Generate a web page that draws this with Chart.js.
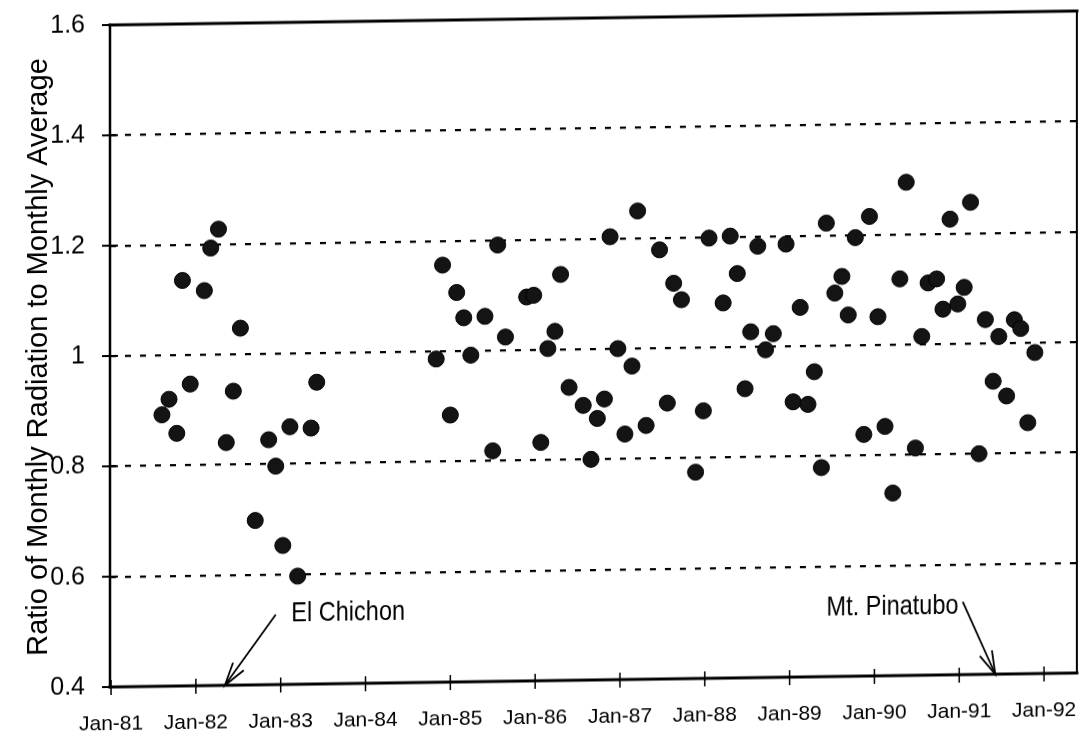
<!DOCTYPE html>
<html>
<head>
<meta charset="utf-8">
<script src="https://cdn.jsdelivr.net/npm/chart.js@4/dist/chart.umd.min.js"></script>
<style>
  html, body { margin: 0; padding: 0; background: #fff; }
  #wrap { width: 1086px; height: 744px; overflow: hidden; }
  #c { display: block; transform: skewY(-0.83deg); transform-origin: 110px 356px; }
</style>
</head>
<body>
<div id="wrap"><canvas id="c" width="1086" height="744"></canvas></div>
<script>
// Months since Jan-81 (decimal) for each monthly observation
const months = [
  7.2, 8.2, 9.3, 10.1, 11.2, 13.2, 14.1, 15.2, 16.3, 17.3, 18.3, 20.4, 22.3, 23.3, 24.3, 25.3, 26.4, 28.3, 29.1,
  46.0, 46.9, 48.0, 48.9, 49.9, 50.9, 52.9, 54.0, 54.7, 55.8,
  58.8, 59.8, 60.8, 61.8, 62.8, 63.6, 64.8, 66.8, 67.9, 68.8,
  69.8, 70.6, 71.7, 72.7, 73.7, 74.5, 75.7, 77.6, 78.7, 79.6,
  80.7, 82.7, 83.8, 84.6, 86.6, 87.6, 88.6, 89.7, 90.5, 91.5,
  92.6, 93.7, 95.5, 96.5, 97.5, 98.6, 99.5, 100.5, 101.2, 102.4,
  103.4, 104.3, 105.3, 106.5, 107.3, 108.5, 109.5, 110.6, 111.6, 112.5,
  113.8, 114.7, 115.6, 116.8, 117.7, 118.7, 119.8, 120.7, 121.6, 122.8,
  123.7, 124.8, 125.6, 126.7, 127.8, 128.7, 129.7, 130.7
];
// Ratio of monthly radiation to monthly average
const ratios = [
  0.892, 0.920, 0.858, 1.135, 0.947, 1.116, 1.193, 1.227, 0.840, 0.933, 1.047, 0.698, 0.844, 0.796, 0.652, 0.867, 0.596, 0.864, 0.947,
  0.986, 1.156, 0.884, 1.106, 1.060, 0.992, 1.062, 0.818, 1.191, 1.024,
  1.096, 1.099, 0.832, 1.002, 1.033, 1.136, 0.931, 0.898, 0.800, 0.874,
  0.909, 1.203, 1.000, 0.845, 0.968, 1.249, 0.860, 1.178, 0.900, 1.117,
  1.087, 0.774, 0.885, 1.198, 1.080, 1.201, 1.133, 0.924, 1.027, 1.182,
  0.994, 1.023, 1.185, 0.899, 1.070, 0.894, 0.953, 0.779, 1.222, 1.095,
  1.125, 1.055, 1.195, 0.838, 1.233, 1.051, 0.852, 0.731, 1.119, 1.294,
  0.812, 1.014, 1.111, 1.118, 1.063, 1.226, 1.072, 1.102, 1.256, 0.800,
  1.043, 0.931, 1.012, 0.904, 1.042, 1.026, 0.855, 0.982
];
const yearLabels = ['Jan-81','Jan-82','Jan-83','Jan-84','Jan-85','Jan-86','Jan-87','Jan-88','Jan-89','Jan-90','Jan-91','Jan-92'];
const yTickValues = [0.4, 0.6, 0.8, 1.0, 1.2, 1.4, 1.6];
const yTickLabels = ['0.4', '0.6', '0.8', '1', '1.2', '1.4', '1.6'];
const eventNames = ['El Chichon', 'Mt. Pinatubo'];
const eventMonths = [16.1, 125.1];

const points = months.map((m, i) => ({ x: m, y: ratios[i] }));

const SANS = '"Liberation Sans", Arial, sans-serif';

const framePlugin = {
  id: 'frame',
  afterDraw(chart) {
    const ctx = chart.ctx;
    const { left, right, top, bottom } = chart.chartArea;
    const xs = chart.scales.x, ys = chart.scales.y;
    ctx.save();
    ctx.strokeStyle = '#000';
    ctx.lineCap = 'square';
    // frame
    ctx.lineWidth = 3;
    ctx.beginPath(); ctx.moveTo(left, bottom); ctx.lineTo(right, bottom); ctx.stroke();
    ctx.beginPath(); ctx.moveTo(left, top); ctx.lineTo(right, top); ctx.stroke();
    ctx.lineWidth = 2.5;
    ctx.beginPath(); ctx.moveTo(left, top); ctx.lineTo(left, bottom); ctx.stroke();
    ctx.lineWidth = 2;
    ctx.beginPath(); ctx.moveTo(right, top); ctx.lineTo(right, bottom); ctx.stroke();
    // crossing tick marks
    ctx.lineWidth = 1.5;
    ctx.lineCap = 'butt';
    xs.ticks.forEach(t => {
      const px = xs.getPixelForValue(t.value);
      ctx.beginPath(); ctx.moveTo(px, bottom - 7); ctx.lineTo(px, bottom + 8); ctx.stroke();
    });
    ctx.lineWidth = 2;
    ys.ticks.forEach(t => {
      const py = ys.getPixelForValue(t.value);
      ctx.beginPath(); ctx.moveTo(left - 8, py); ctx.lineTo(left + 8, py); ctx.stroke();
    });
    // event annotations
    const drawArrow = (x0, y0, x1, y1) => {
      ctx.lineWidth = 1.8;
      ctx.beginPath(); ctx.moveTo(x0, y0); ctx.lineTo(x1, y1); ctx.stroke();
      const a = Math.atan2(y1 - y0, x1 - x0);
      const L = 24, w = 0.28;
      ctx.beginPath();
      ctx.moveTo(x1 - L * Math.cos(a - w), y1 - L * Math.sin(a - w));
      ctx.lineTo(x1, y1);
      ctx.lineTo(x1 - L * Math.cos(a + w), y1 - L * Math.sin(a + w));
      ctx.stroke();
    };
    const narrowText = (txt, x, y, align) => {
      ctx.save();
      ctx.font = '28px ' + SANS;
      ctx.textBaseline = 'middle';
      ctx.textAlign = align;
      ctx.translate(x, y);
      ctx.scale(0.84, 1);
      ctx.fillText(txt, 0, 0);
      ctx.restore();
    };
    ctx.fillStyle = '#000';
    // El Chichon
    {
      const tipX = xs.getPixelForValue(eventMonths[0]);
      const tipY = ys.getPixelForValue(0.4);
      const sX = xs.getPixelForValue(23.3), sY = ys.getPixelForValue(0.527);
      drawArrow(sX, sY, tipX, tipY);
      narrowText(eventNames[0], xs.getPixelForValue(25.5), ys.getPixelForValue(0.528), 'left');
    }
    // Mt. Pinatubo
    {
      const tipX = xs.getPixelForValue(eventMonths[1]);
      const tipY = ys.getPixelForValue(0.4);
      const sX = xs.getPixelForValue(120.5), sY = ys.getPixelForValue(0.532);
      drawArrow(sX, sY, tipX, tipY);
      narrowText(eventNames[1], xs.getPixelForValue(119.9), ys.getPixelForValue(0.525), 'right');
    }
    ctx.restore();
  }
};

new Chart(document.getElementById('c'), {
  type: 'scatter',
  data: {
    datasets: [{
      data: points,
      pointRadius: 8,
      pointHoverRadius: 8,
      pointBackgroundColor: '#141414',
      pointBorderColor: '#000',
      pointBorderWidth: 1
    }]
  },
  options: {
    responsive: false,
    animation: false,
    events: [],
    layout: { padding: { left: 0, top: 25, right: 8, bottom: 0 } },
    plugins: { legend: { display: false }, tooltip: { enabled: false } },
    scales: {
      x: {
        type: 'linear',
        min: -0.15,
        max: 136.65,
        afterBuildTicks: s => { s.ticks = yearLabels.map((_, i) => ({ value: i * 12 })); },
        afterFit: s => { s.height = 57; s.paddingLeft = 0; s.paddingRight = 0; },
        grid: { display: false, drawTicks: false },
        border: { display: false },
        ticks: {
          autoSkip: false, maxRotation: 0, minRotation: 0,
          padding: 25,
          color: '#000',
          font: { family: SANS, size: 21 },
          callback: v => yearLabels[Math.round(v / 12)]
        }
      },
      y: {
        min: 0.4,
        max: 1.6,
        afterBuildTicks: s => { s.ticks = yTickValues.map(v => ({ value: v })); },
        afterFit: s => { s.width = 110; s.paddingTop = 0; s.paddingBottom = 0; },
        border: { display: false, dash: [6, 9] },
        grid: {
          drawTicks: false,
          color: c => (c.tick && (Math.abs(c.tick.value - 0.4) < 1e-6 || Math.abs(c.tick.value - 1.6) < 1e-6)) ? 'rgba(0,0,0,0)' : '#000',
          lineWidth: 2.2
        },
        ticks: {
          padding: 25,
          color: '#000',
          font: { family: SANS, size: 25 },
          callback: (v) => {
            const i = yTickValues.findIndex(t => Math.abs(t - v) < 1e-6);
            return i >= 0 ? yTickLabels[i] : '';
          }
        },
        title: {
          display: true,
          text: 'Ratio of Monthly Radiation to Monthly Average',
          color: '#000',
          font: { family: SANS, size: 29 },
          padding: { top: 22, bottom: 0 }
        }
      }
    }
  },
  plugins: [framePlugin]
});
</script>
</body>
</html>
